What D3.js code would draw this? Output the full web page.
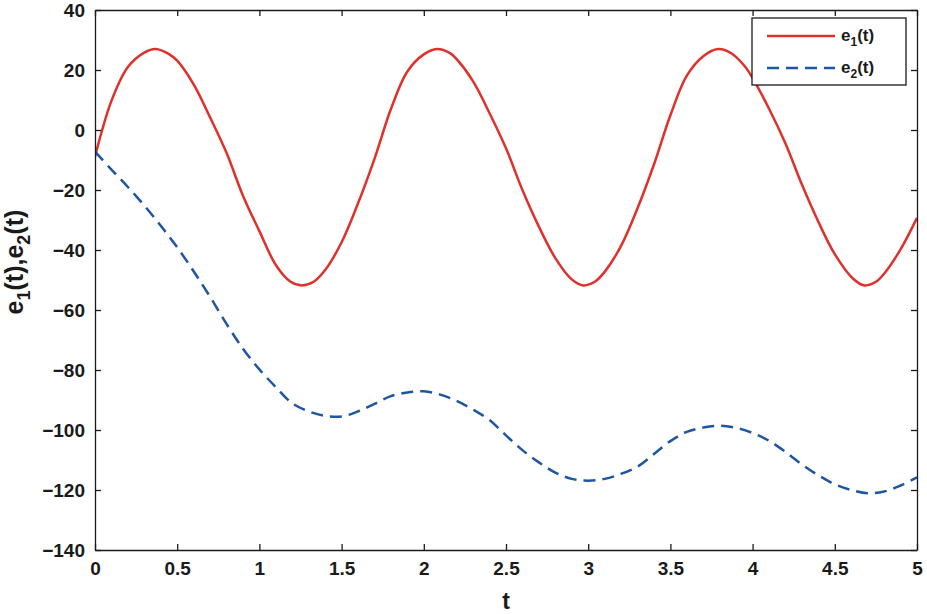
<!DOCTYPE html>
<html><head><meta charset="utf-8">
<script src="https://cdn.jsdelivr.net/npm/d3@7/dist/d3.min.js"></script>
<style>
html,body{margin:0;padding:0;background:#fff;}
svg text{font-family:"Liberation Sans",Arial,Helvetica,sans-serif;font-weight:bold;fill:#1a1a1a;}
</style></head>
<body><svg id="c" width="927" height="614"></svg>
<script>
// ---- data ----
const tValues1 = [0,0.1,0.2,0.3,0.37,0.45,0.5,0.6,0.7,0.8,0.9,1.0,1.1,1.19,1.26,1.33,1.4,1.5,1.6,1.7,1.8,1.9,2.0,2.08,2.16,2.2,2.3,2.4,2.5,2.6,2.7,2.8,2.9,2.97,3.04,3.1,3.2,3.3,3.4,3.5,3.6,3.7,3.79,3.87,3.95,4.0,4.1,4.2,4.3,4.4,4.5,4.61,4.68,4.75,4.8,4.9,5.0];
const e1Values = [-8.9,9.7,21,25.8,27,25.3,23.1,15.2,4.2,-7.6,-21.9,-33.7,-45.0,-50.6,-51.8,-50.6,-46.7,-37.4,-24.4,-9.6,7,19.5,25.2,27,25.6,23.6,16.2,5.6,-6.1,-20.0,-32.2,-42.7,-49.8,-51.8,-50.6,-47.3,-38.6,-26.1,-11.5,4.9,18.1,24.6,27,25.6,21.4,17.3,7.1,-4.5,-18.2,-30.6,-41.4,-49.5,-51.8,-50.6,-47.9,-39.8,-29.3];
const tValues2 = [0,0.1,0.2,0.3,0.4,0.5,0.6,0.7,0.8,0.9,1.0,1.1,1.2,1.3,1.4,1.5,1.6,1.7,1.8,1.9,2.0,2.1,2.2,2.3,2.4,2.5,2.6,2.7,2.8,2.9,3.0,3.1,3.2,3.3,3.4,3.5,3.6,3.7,3.8,3.9,4.0,4.1,4.2,4.3,4.4,4.5,4.6,4.7,4.8,4.9,5.0];
const e2Values = [-7.2,-13.2,-19.0,-25.2,-31.9,-39.1,-47.1,-55.6,-64.6,-72.9,-79.8,-85.7,-91.1,-93.8,-95.3,-95.5,-93.8,-91.3,-88.7,-87.5,-87.1,-88.2,-90.3,-93.2,-96.7,-101.8,-106.7,-110.8,-114.2,-116.3,-116.9,-116.3,-114.6,-112.2,-108.0,-103.7,-100.6,-99.2,-98.6,-99.3,-101.0,-103.6,-107.3,-111.5,-115.1,-118.1,-120.0,-121.1,-120.5,-118.5,-115.8];
const xTicks = [0,0.5,1,1.5,2,2.5,3,3.5,4,4.5,5];
const xTickLabels = ["0","0.5","1","1.5","2","2.5","3","3.5","4","4.5","5"];
const yTicks = [-140,-120,-100,-80,-60,-40,-20,0,20,40];
const yTickLabels = ["\u2212140","\u2212120","\u2212100","\u221280","\u221260","\u221240","\u221220","0","20","40"];
const seriesNames = ["e1(t)","e2(t)"];

// ---- layout ----
const L=95, R=917, T=10, B=550;
const svg = d3.select("#c");
const x = d3.scaleLinear().domain([0,5]).range([L,R]);
const y = d3.scaleLinear().domain([-140,40]).range([B,T]);
const red="#e0302b", blue="#1f56a3", ink="#1a1a1a";

const line = d3.line().x(d=>x(d[0])).y(d=>y(d[1])).curve(d3.curveCatmullRom.alpha(0.5));
svg.append("clipPath").attr("id","pc").append("rect").attr("x",L).attr("y",T).attr("width",R-L).attr("height",B-T);
const g = svg.append("g").attr("clip-path","url(#pc)");
g.append("path").datum(tValues1.map((t,i)=>[t,e1Values[i]])).attr("d",line)
  .attr("fill","none").attr("stroke",red).attr("stroke-width",2.5);
g.append("path").datum(tValues2.map((t,i)=>[t,e2Values[i]])).attr("d",line)
  .attr("fill","none").attr("stroke",blue).attr("stroke-width",2.5).attr("stroke-dasharray","12,7");

// axes (ticks inward on all sides)
const tk=6;
const axB = d3.axisBottom(x).tickValues(xTicks).tickFormat((d,i)=>xTickLabels[i]).tickSizeInner(-tk).tickSizeOuter(0).tickPadding(12);
const axT = d3.axisTop(x).tickValues(xTicks).tickFormat("").tickSizeInner(-tk).tickSizeOuter(0);
const axL = d3.axisLeft(y).tickValues(yTicks).tickFormat((d,i)=>yTickLabels[i]).tickSizeInner(-tk).tickSizeOuter(0).tickPadding(10);
const axR = d3.axisRight(y).tickValues(yTicks).tickFormat("").tickSizeInner(-tk).tickSizeOuter(0);
function style(sel){sel.selectAll("path,line").attr("stroke",ink).attr("stroke-width",1.3);
  sel.selectAll("text").attr("font-size",19).attr("font-weight","bold").attr("fill",ink).attr("font-family","Liberation Sans, Arial, sans-serif");}
svg.append("g").attr("transform",`translate(0,${B})`).call(axB).call(style);
svg.append("g").attr("transform",`translate(0,${T})`).call(axT).call(style);
svg.append("g").attr("transform",`translate(${L},0)`).call(axL).call(style);
svg.append("g").attr("transform",`translate(${R},0)`).call(axR).call(style);

// axis titles
svg.append("text").attr("x",(L+R)/2).attr("y",609).attr("text-anchor","middle").attr("font-size",23).text("t");
const yt = svg.append("text").attr("transform","translate(23,262) rotate(-90)").attr("text-anchor","middle").attr("font-size",25);
yt.append("tspan").text("e");
yt.append("tspan").attr("dy",7).attr("font-size",18).text("1");
yt.append("tspan").attr("dy",-7).text("(t),e");
yt.append("tspan").attr("dy",7).attr("font-size",18).text("2");
yt.append("tspan").attr("dy",-7).text("(t)");

// legend
const lg = svg.append("g");
lg.append("rect").attr("x",752).attr("y",18).attr("width",154).attr("height",67).attr("fill","#fff").attr("stroke",ink).attr("stroke-width",1.3);
const rows=[{c:red,d:null,y:36},{c:blue,d:"12,7",y:68}];
rows.forEach((r,i)=>{
  lg.append("line").attr("x1",767).attr("x2",835).attr("y1",r.y).attr("y2",r.y).attr("stroke",r.c).attr("stroke-width",2.5).attr("stroke-dasharray",r.d);
  const tx = lg.append("text").attr("x",841).attr("y",r.y+5).attr("font-size",17);
  const nm = seriesNames[i];
  tx.append("tspan").text(nm[0]);
  tx.append("tspan").attr("dy",5).attr("font-size",12).text(nm[1]);
  tx.append("tspan").attr("dy",-5).text(nm.slice(2));
});
</script></body></html>
